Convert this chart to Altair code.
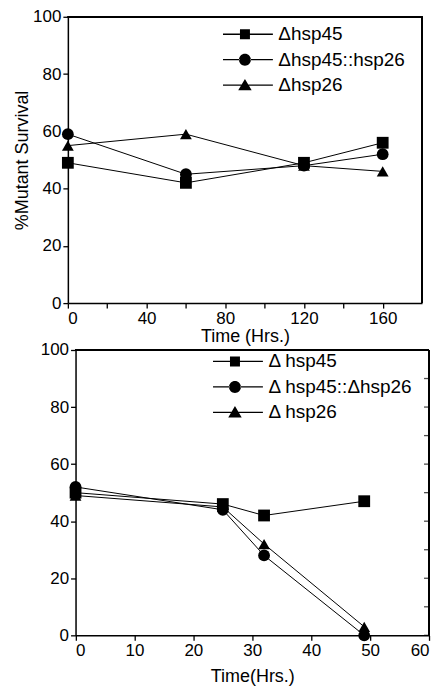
import altair as alt
import pandas as pd

# ---- data ----
top_time = [0, 60, 120, 160]
top_hsp45 = [49, 42, 49, 56]
top_hsp45_hsp26 = [59, 45, 48, 52]
top_hsp26 = [55, 59, 48, 46]
top_labels = ["Δhsp45", "Δhsp45::hsp26", "Δhsp26"]

bot_time = [0, 25, 32, 49]
bot_hsp45 = [50, 46, 42, 47]
bot_hsp45_hsp26 = [52, 44, 28, 0]
bot_hsp26 = [49, 45, 32, 3]
bot_labels = ["Δ hsp45", "Δ hsp45::Δhsp26", "Δ hsp26"]

top_x_domain = [0, 180]
top_x_ticks = [0, 20, 40, 60, 80, 100, 120, 140, 160]
y_domain = [0, 100]
y_ticks_10 = [0, 10, 20, 30, 40, 50, 60, 70, 80, 90, 100]
y_ticks_20 = [0, 20, 40, 60, 80, 100]
bot_x_domain = [0, 60]
bot_x_ticks = [0, 5, 10, 15, 20, 25, 30, 35, 40, 45, 50, 55, 60]

FONT = "Liberation Sans"
SHAPES = ["square", "circle", "triangle-up"]
# legend glyphs "—■—", "—●—", "—▲—" drawn as filled paths (unit = 5 px)
P_SQ = "M-4.4,-0.13H-1V0.13H-4.4Z M1,-0.13H5.6V0.13H1Z M-1,-1H1V1H-1Z"
P_CI = ("M-4.4,-0.13H-1.1V0.13H-4.4Z M1.1,-0.13H5.6V0.13H1.1Z "
        "M-1.2,0A1.2,1.2,0,1,0,1.2,0A1.2,1.2,0,1,0,-1.2,0Z")
P_TR = "M-4.4,-0.13H-0.7V0.13H-4.4Z M0.7,-0.13H5.6V0.13H0.7Z M0,-1.25L1.35,1.05L-1.35,1.05Z"
LEGEND_PATHS = [P_SQ, P_CI, P_TR]


def long(time, series, labels):
    rows = []
    for lab, vals in zip(labels, series):
        for t, v in zip(time, vals):
            rows.append({"t": t, "v": v, "s": lab, "g": lab})
    return pd.DataFrame(rows)


def axis_common(**kw):
    base = dict(grid=False, domainColor="black", domainWidth=1.5, tickColor="black",
                tickWidth=1.3, tickSize=5, labelFont=FONT, labelFontSize=17,
                labelColor="black", labelPadding=2, titleFont=FONT, titleFontSize=18,
                titleFontWeight="normal", titleColor="black")
    base.update(kw)
    return alt.Axis(**base)


def make_legend(lx, ly):
    return alt.Legend(title=None, orient="none", legendX=lx, legendY=ly,
                      symbolSize=100, labelFont=FONT, labelFontSize=19,
                      labelColor="black", labelOffset=24, rowPadding=5.5,
                      padding=0, symbolOpacity=1, symbolFillColor="black")


def frame_layers(df, xenc, yenc, xdom, right_ticks=None):
    # top border and right border of the plot frame, drawn on the panel's scales
    top_rule = alt.Chart(df).mark_rule(color="black", strokeWidth=1.5).encode(
        x=alt.datum(xdom[0]), x2=alt.datum(xdom[1]), y=alt.datum(y_domain[1]))
    right_rule = alt.Chart(df).mark_rule(color="black", strokeWidth=1.5).encode(
        x=alt.datum(xdom[1]), y=alt.datum(y_domain[0]), y2=alt.datum(y_domain[1]))
    layers = [top_rule, right_rule]
    if right_ticks:
        tdf = pd.DataFrame({"yt": right_ticks})
        layers.append(alt.Chart(tdf).mark_tick(
            orient="horizontal", color="black", size=5, thickness=1.3, xOffset=-2.5).encode(
            x=alt.datum(xdom[1]), y=alt.Y("yt:Q")))
    return layers


def panel_layers(df, labels, xenc, yenc, lx, ly):
    layers = [alt.Chart(df).mark_line(color="black", strokeWidth=1).encode(
        x=xenc, y=yenc, detail="s:N")]
    for lab, shp in zip(labels, SHAPES):
        layers.append(
            alt.Chart(df).transform_filter(alt.datum.s == lab).mark_point(
                shape=shp, filled=True, color="black", opacity=1, size=140
            ).encode(x=xenc, y=yenc))
    layers.append(
        alt.Chart(df).mark_point(filled=True, color="black", opacity=0, size=100).encode(
            x=xenc, y=yenc,
            shape=alt.Shape("g:N", scale=alt.Scale(domain=labels, range=LEGEND_PATHS),
                            legend=make_legend(lx, ly))))
    return layers


# ---- top panel ----
df_top = long(top_time, [top_hsp45, top_hsp45_hsp26, top_hsp26], top_labels)
xts = alt.Scale(domain=top_x_domain, nice=False)
yts = alt.Scale(domain=y_domain, nice=False)
xt = alt.X("t:Q", scale=xts,
           axis=axis_common(values=top_x_ticks, title="Time (Hrs.)", titlePadding=1.5,
                            labelExpr="datum.value % 40 == 0 ? datum.label : ''"))
yt = alt.Y("v:Q", scale=yts,
           axis=axis_common(values=y_ticks_10, title="%Mutant Survival", titlePadding=1,
                            labelExpr="datum.value % 20 == 0 ? datum.label : ''"))
top = alt.layer(*panel_layers(df_top, top_labels, xt, yt, 168, 8)[:4],
                *frame_layers(df_top, xt, yt, top_x_domain),
                panel_layers(df_top, top_labels, xt, yt, 168, 8)[4]
                ).properties(width=355, height=287)

# ---- bottom panel ----
df_bot = long(bot_time, [bot_hsp45, bot_hsp45_hsp26, bot_hsp26], bot_labels)
BW = 362
xs = alt.Scale(domain=bot_x_domain, nice=False, range=[7.7, BW])
ys = alt.Scale(domain=y_domain, nice=False)
xb = alt.X("t:Q", scale=xs,
           axis=axis_common(values=bot_x_ticks, title="Time(Hrs.)", titlePadding=9,
                            labelExpr="datum.value % 10 == 0 ? datum.label : ''"))
yb = alt.Y("v:Q", scale=ys, axis=axis_common(values=y_ticks_20, title=None, offset=-7.7))
bot_panel = panel_layers(df_bot, bot_labels, xb, yb, 158, 2)
bot = alt.layer(*bot_panel[:4],
                *frame_layers(df_bot, xb, yb, bot_x_domain, right_ticks=y_ticks_10),
                bot_panel[4]).properties(width=BW, height=286)

chart = alt.vconcat(top, bot, spacing=-6).resolve_scale(
    shape="independent", x="independent", y="independent"
).resolve_legend(shape="independent").properties(
    padding={"left": 5, "top": -2, "right": 5, "bottom": 0}
).configure_view(stroke="transparent")

chart.save("out.html", embed_options={"renderer": "svg", "actions": False})
